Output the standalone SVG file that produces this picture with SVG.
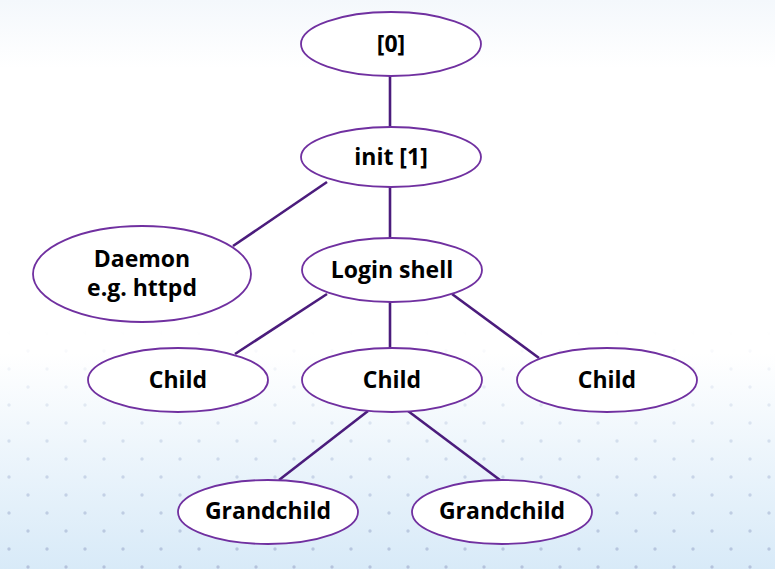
<svg xmlns="http://www.w3.org/2000/svg" width="775" height="569" viewBox="0 0 775 569">
<defs>
<linearGradient id="bg" x1="0" y1="0" x2="0" y2="1">
<stop offset="0" stop-color="#F4F8FC"/>
<stop offset="0.12" stop-color="#FFFFFF"/>
<stop offset="0.62" stop-color="#FFFFFF"/>
<stop offset="1" stop-color="#D8EAF8"/>
</linearGradient>
<linearGradient id="fade" x1="0" y1="0" x2="0" y2="1">
<stop offset="0.58" stop-color="#000"/>
<stop offset="1" stop-color="#fff"/>
</linearGradient>
<mask id="dotmask">
<rect x="0" y="0" width="775" height="569" fill="url(#fade)"/>
</mask>
<pattern id="dots" x="0" y="0" width="38" height="36" patternUnits="userSpaceOnUse">
<circle cx="9" cy="9" r="1.7" fill="#B4C2DC"/>
<circle cx="28" cy="27" r="1.7" fill="#B4C2DC"/>
</pattern>
</defs>
<style>
.node ellipse { fill: #FFFFFF; stroke: #7030A0; stroke-width: 1.8; }
.node text { font-family: "Open Sans", "Noto Sans", "DejaVu Sans", sans-serif; font-weight: bold; font-size: 23px; fill: #000000; text-anchor: middle; }
#connectors line { stroke: #4B1C7C; stroke-width: 2.6; }
</style>
<rect x="0" y="0" width="775" height="569" fill="url(#bg)"/>
<rect x="0" y="0" width="775" height="569" fill="url(#dots)" mask="url(#dotmask)"/>
<g id="connectors">
<line x1="390" y1="76" x2="390" y2="127"/>
<line x1="390" y1="186" x2="390" y2="239"/>
<line x1="327" y1="182" x2="233" y2="246"/>
<line x1="327" y1="294" x2="235" y2="354"/>
<line x1="390" y1="302" x2="390" y2="348"/>
<line x1="452" y1="294" x2="539" y2="358"/>
<line x1="368" y1="411" x2="279" y2="480"/>
<line x1="408" y1="411" x2="500" y2="480"/>
</g>
<g id="n0" class="node"><ellipse cx="391" cy="44" rx="90" ry="32"/><text x="391" y="52">[0]</text></g>
<g id="init" class="node"><ellipse cx="391" cy="157" rx="90" ry="30"/><text x="391" y="165">init [1]</text></g>
<g id="daemon" class="node"><ellipse cx="142" cy="274" rx="109" ry="48"/><text x="142" y="267">Daemon</text><text x="142" y="296">e.g. httpd</text></g>
<g id="login" class="node"><ellipse cx="392" cy="270" rx="90" ry="32"/><text x="392" y="278">Login shell</text></g>
<g id="child1" class="node"><ellipse cx="178" cy="380" rx="90" ry="32"/><text x="178" y="388">Child</text></g>
<g id="child2" class="node"><ellipse cx="392" cy="380" rx="90" ry="32"/><text x="392" y="388">Child</text></g>
<g id="child3" class="node"><ellipse cx="607" cy="380" rx="90" ry="32"/><text x="607" y="388">Child</text></g>
<g id="gc1" class="node"><ellipse cx="268" cy="512" rx="90" ry="32"/><text x="268" y="519">Grandchild</text></g>
<g id="gc2" class="node"><ellipse cx="502" cy="512" rx="90" ry="32"/><text x="502" y="519">Grandchild</text></g>
</svg>
